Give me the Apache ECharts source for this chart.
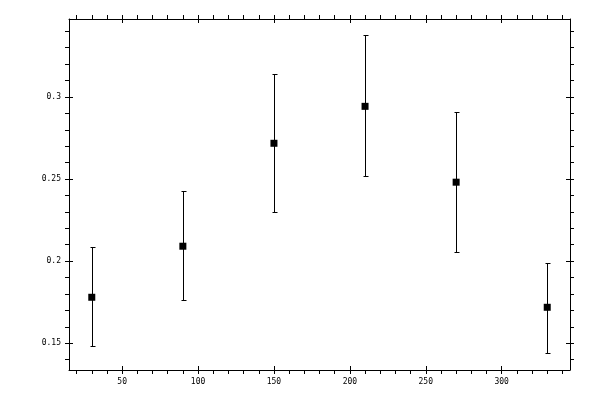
<!DOCTYPE html>
<html>
<head>
<meta charset="utf-8">
<script src="https://cdn.jsdelivr.net/npm/echarts@6/dist/echarts.min.js"></script>
<style>
html, body { margin: 0; padding: 0; background: #fff; }
#chart { width: 600px; height: 400px; }
</style>
</head>
<body>
<div id="chart"></div>
<script>
// data
var xValues = [30, 90, 150, 210, 270, 330];
var yValues = [0.178, 0.2091, 0.2718, 0.2943, 0.2481, 0.1719];
var yLow = [0.1482, 0.1762, 0.2298, 0.2517, 0.2054, 0.1441];
var yHigh = [0.2085, 0.2426, 0.3138, 0.3376, 0.2907, 0.1991];

// ticks
var xMajorTicks = [50, 100, 150, 200, 250, 300];
var xMinorTicks = [20, 30, 40, 60, 70, 80, 90, 110, 120, 130, 140, 160, 170, 180, 190,
    210, 220, 230, 240, 260, 270, 280, 290, 310, 320, 330, 340];
var yMajorTicks = [0.15, 0.2, 0.25, 0.3];
var yMinorTicks = [0.14, 0.16, 0.17, 0.18, 0.19, 0.21, 0.22, 0.23, 0.24,
    0.26, 0.27, 0.28, 0.29, 0.31, 0.32, 0.33, 0.34];

var xMin = 15, xMax = 345;
var yMin = 0.1337, yMax = 0.3475;

var chart = echarts.init(document.getElementById('chart'));

var labelFont = {
    color: '#000',
    fontFamily: 'DejaVu Sans Mono',
    fontSize: 8
};

function makeAxis(position, min, max, ticks, inside, withLabels, labelValues, showLine) {
    return {
        type: 'value',
        position: position,
        min: min,
        max: max,
        splitLine: { show: false },
        axisLine: { show: showLine, lineStyle: { color: '#000', width: 1 } },
        axisTick: {
            show: true,
            inside: inside,
            length: 4,
            customValues: ticks,
            lineStyle: { color: '#000', width: 1 }
        },
        axisLabel: withLabels ? Object.assign({
            show: true,
            margin: 8,
            customValues: labelValues
        }, labelFont) : { show: false }
    };
}

var allX = xMajorTicks.concat(xMinorTicks);
var allY = yMajorTicks.concat(yMinorTicks);

var xPoints = [], errData = [];
for (var i = 0; i < xValues.length; i++) {
    xPoints.push([xValues[i], yValues[i]]);
    errData.push([xValues[i], yLow[i], yHigh[i]]);
}

function crisp(v) { return Math.round(v) + 0.5; }

var option = {
    animation: false,
    backgroundColor: '#fff',
    grid: { left: 69, right: 30, top: 19, bottom: 30 },
    xAxis: [
        makeAxis('bottom', xMin, xMax, allX, false, true, xMajorTicks, true),
        makeAxis('bottom', xMin, xMax, xMajorTicks, true, false, null, false),
        makeAxis('top', xMin, xMax, allX, false, false, null, true),
        makeAxis('top', xMin, xMax, xMajorTicks, true, false, null, false)
    ],
    yAxis: [
        makeAxis('left', yMin, yMax, allY, false, true, yMajorTicks, true),
        makeAxis('left', yMin, yMax, yMajorTicks, true, false, null, false),
        makeAxis('right', yMin, yMax, allY, false, false, null, true),
        makeAxis('right', yMin, yMax, yMajorTicks, true, false, null, false)
    ],
    series: [
        {
            type: 'custom',
            xAxisIndex: 0,
            yAxisIndex: 0,
            data: errData,
            renderItem: function (params, api) {
                var lo = api.coord([api.value(0), api.value(1)]);
                var hi = api.coord([api.value(0), api.value(2)]);
                var x = crisp(lo[0]);
                var y1 = crisp(lo[1]), y2 = crisp(hi[1]);
                var w = 2;
                var st = { stroke: '#000', lineWidth: 1 };
                return {
                    type: 'group',
                    children: [
                        { type: 'line', shape: { x1: x, y1: y1, x2: x, y2: y2 }, style: st },
                        { type: 'line', shape: { x1: x - w, y1: y1, x2: x + w + 1, y2: y1 }, style: st },
                        { type: 'line', shape: { x1: x - w, y1: y2, x2: x + w + 1, y2: y2 }, style: st }
                    ]
                };
            },
            z: 2
        },
        {
            type: 'scatter',
            xAxisIndex: 0,
            yAxisIndex: 0,
            data: xPoints,
            symbol: 'rect',
            symbolSize: 7,
            itemStyle: { color: '#000', opacity: 1 },
            z: 3
        }
    ]
};

chart.setOption(option);
</script>
</body>
</html>
